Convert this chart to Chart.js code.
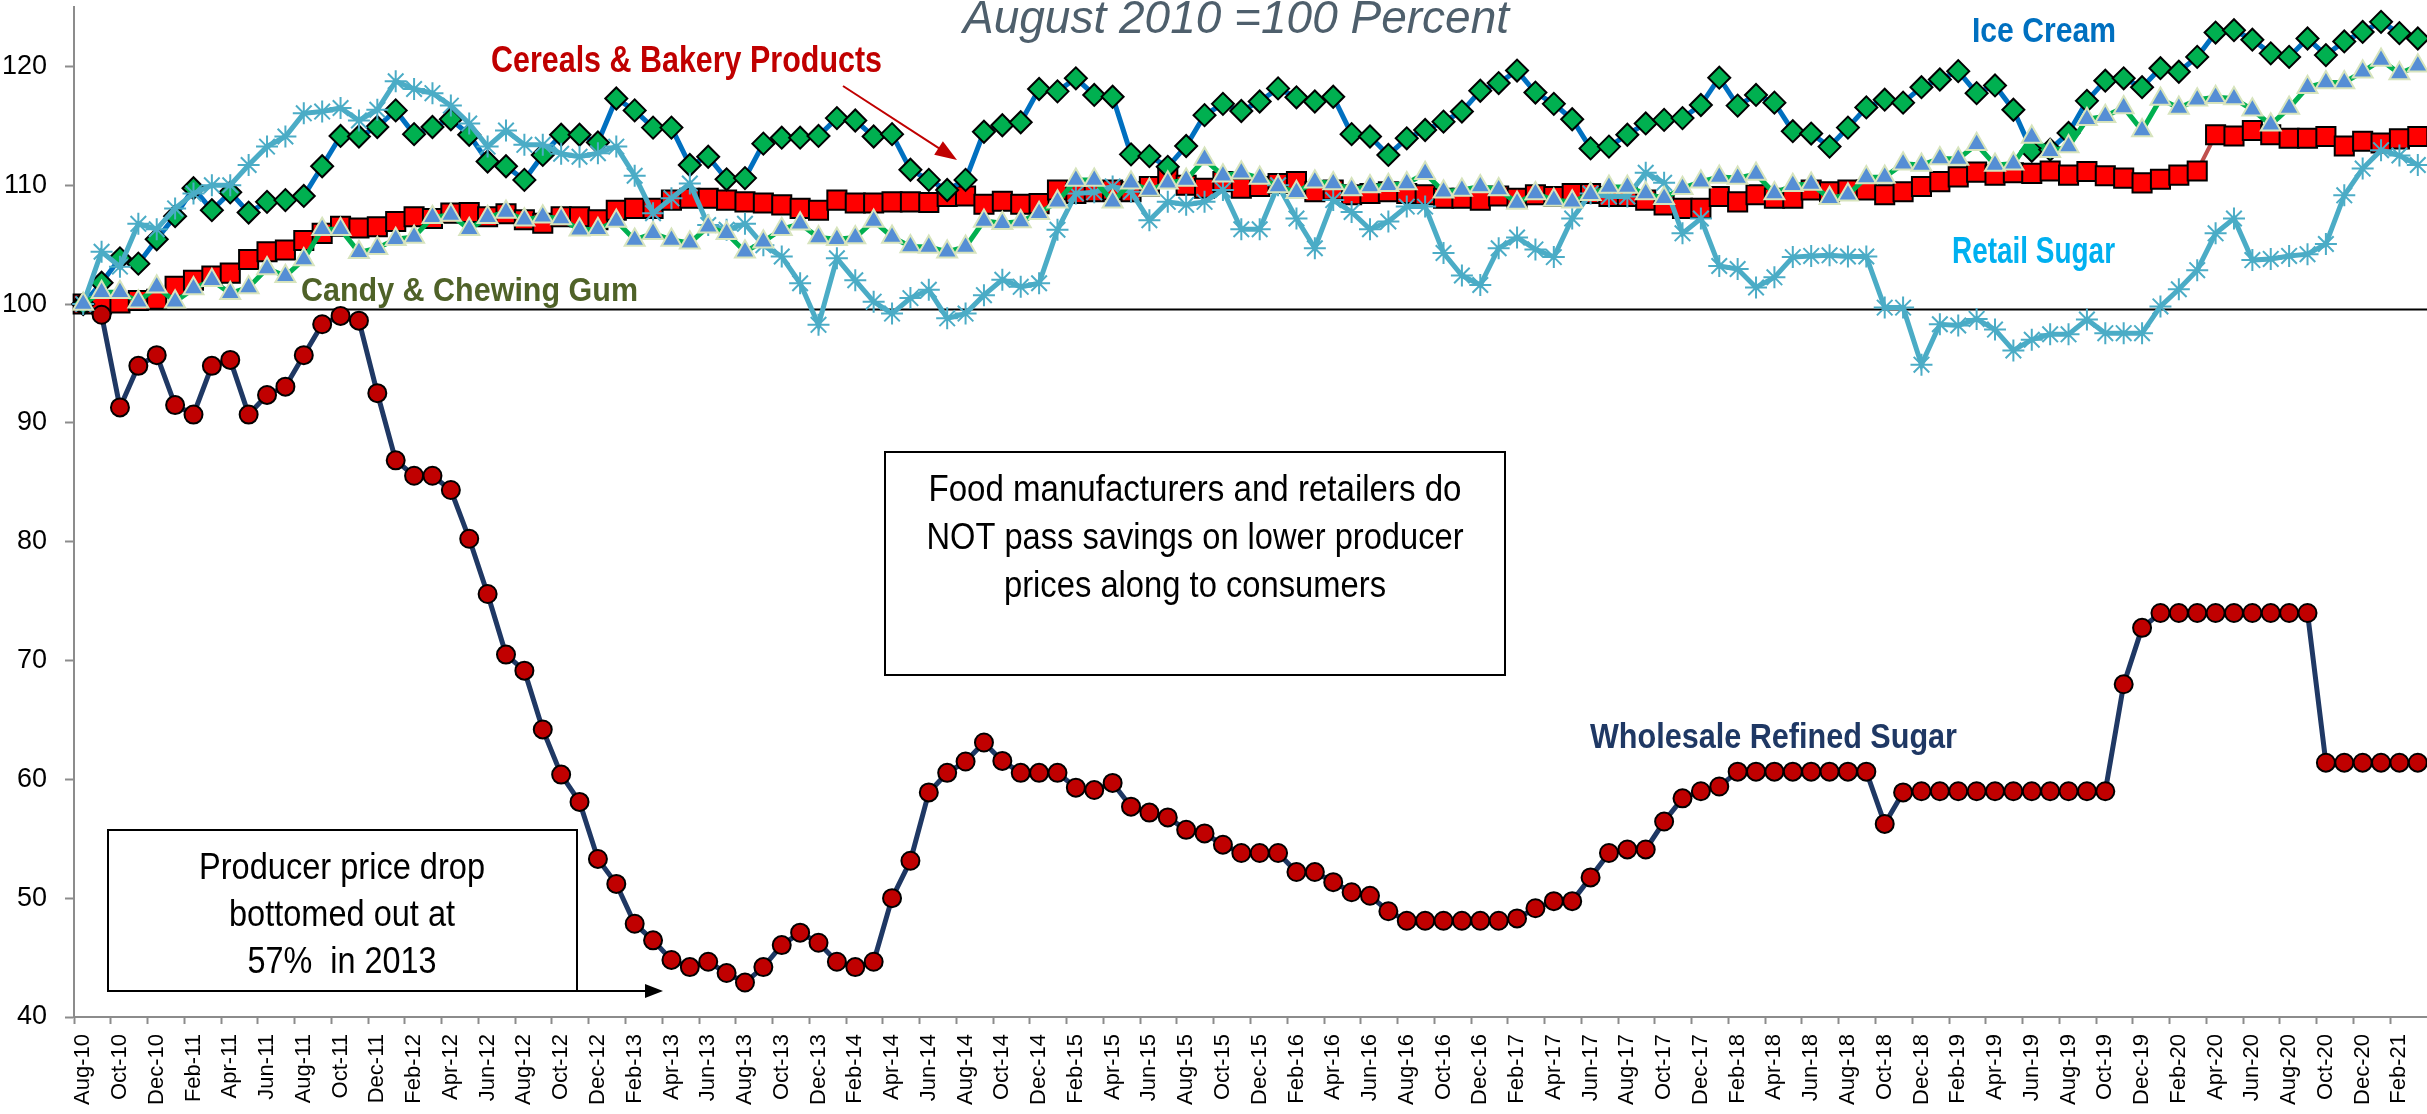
<!DOCTYPE html>
<html><head><meta charset="utf-8">
<script src="https://cdn.jsdelivr.net/npm/chart.js@4.4.0/dist/chart.umd.min.js"></script>
<style>html,body{margin:0;padding:0;background:#fff;}canvas{display:block;}</style>
</head><body>
<canvas id="c" width="2427" height="1114"></canvas>
<script>
const months = [
 'Aug-10','Sep-10','Oct-10','Nov-10','Dec-10',
 'Jan-11','Feb-11','Mar-11','Apr-11','May-11','Jun-11','Jul-11','Aug-11','Sep-11','Oct-11','Nov-11','Dec-11',
 'Jan-12','Feb-12','Mar-12','Apr-12','May-12','Jun-12','Jul-12','Aug-12','Sep-12','Oct-12','Nov-12','Dec-12',
 'Jan-13','Feb-13','Mar-13','Apr-13','May-13','Jun-13','Jul-13','Aug-13','Sep-13','Oct-13','Nov-13','Dec-13',
 'Jan-14','Feb-14','Mar-14','Apr-14','May-14','Jun-14','Jul-14','Aug-14','Sep-14','Oct-14','Nov-14','Dec-14',
 'Jan-15','Feb-15','Mar-15','Apr-15','May-15','Jun-15','Jul-15','Aug-15','Sep-15','Oct-15','Nov-15','Dec-15',
 'Jan-16','Feb-16','Mar-16','Apr-16','May-16','Jun-16','Jul-16','Aug-16','Sep-16','Oct-16','Nov-16','Dec-16',
 'Jan-17','Feb-17','Mar-17','Apr-17','May-17','Jun-17','Jul-17','Aug-17','Sep-17','Oct-17','Nov-17','Dec-17',
 'Jan-18','Feb-18','Mar-18','Apr-18','May-18','Jun-18','Jul-18','Aug-18','Sep-18','Oct-18','Nov-18','Dec-18',
 'Jan-19','Feb-19','Mar-19','Apr-19','May-19','Jun-19','Jul-19','Aug-19','Sep-19','Oct-19','Nov-19','Dec-19',
 'Jan-20','Feb-20','Mar-20','Apr-20','May-20','Jun-20','Jul-20','Aug-20','Sep-20','Oct-20','Nov-20','Dec-20',
 'Jan-21','Feb-21','Mar-21'
];

const wholesaleSugar = [
 100, 99.1, 91.3, 94.8, 95.7, 91.5, 90.7, 94.8, 95.3, 90.7,
 92.35, 93.05, 95.7, 98.3, 99.0, 98.6, 92.5, 86.85, 85.55, 85.55,
 84.35, 80.25, 75.6, 70.5, 69.15, 64.2, 60.4, 58.1, 53.3, 51.2,
 47.85, 46.45, 44.8, 44.2, 44.65, 43.7, 42.9, 44.2, 46.05, 47.1,
 46.25, 44.65, 44.2, 44.65, 50.0, 53.15, 58.9, 60.55, 61.5, 63.1,
 61.55, 60.55, 60.55, 60.55, 59.3, 59.1, 59.7, 57.7, 57.2, 56.8,
 55.75, 55.45, 54.5, 53.8, 53.8, 53.8, 52.2, 52.2, 51.35, 50.5,
 50.2, 48.9, 48.1, 48.1, 48.1, 48.1, 48.1, 48.1, 48.3, 49.15,
 49.75, 49.75, 51.75, 53.8, 54.1, 54.1, 56.45, 58.4, 59.0, 59.4,
 60.65, 60.65, 60.65, 60.65, 60.65, 60.65, 60.65, 60.65, 56.25, 58.9,
 59.0, 59.0, 59.0, 59.0, 59.0, 59.0, 59.0, 59.0, 59.0, 59.0,
 59.0, 68.0, 72.75, 74, 74, 74, 74, 74, 74, 74,
 74, 74, 61.4, 61.4, 61.4, 61.4, 61.4, 61.4
];

const iceCream = [
 100, 101.8, 103.85, 103.4, 105.45, 107.4, 109.75, 107.9, 109.4, 107.7,
 108.6, 108.75, 109.1, 111.6, 114.15, 114.1, 114.9, 116.3, 114.3, 114.9,
 115.55, 114.25, 112.0, 111.6, 110.45, 112.55, 114.25, 114.25, 113.6, 117.3,
 116.3, 114.85, 114.85, 111.7, 112.4, 110.5, 110.6, 113.5, 114.0, 114.0,
 114.15, 115.65, 115.45, 114.1, 114.3, 111.3, 110.45, 109.6, 110.45, 114.5,
 115.05, 115.3, 118.1, 117.9, 119.0, 117.6, 117.45, 112.6, 112.45, 111.55,
 113.3, 115.9, 116.85, 116.25, 117.05, 118.15, 117.4, 117.05, 117.45, 114.3,
 114.1, 112.55, 113.95, 114.65, 115.35, 116.2, 117.95, 118.6, 119.65, 117.8,
 116.85, 115.55, 113.1, 113.25, 114.25, 115.2, 115.5, 115.65, 116.75, 119.05,
 116.7, 117.6, 116.95, 114.55, 114.35, 113.25, 114.85, 116.55, 117.2, 116.95,
 118.25, 118.9, 119.6, 117.75, 118.4, 116.35, 112.9, 113.0, 114.4, 117.1,
 118.8, 119.0, 118.25, 119.85, 119.55, 120.8, 122.85, 123.05, 122.25, 121.1,
 120.8, 122.35, 120.95, 122.1, 122.9, 123.75, 122.8, 122.35
];

const cereals = [
 100.0, 100.0, 100.1, 100.3, 100.4, 101.5, 102.0, 102.35, 102.6, 103.75,
 104.4, 104.55, 105.35, 105.95, 106.55, 106.4, 106.5, 106.95, 107.35, 107.2,
 107.65, 107.7, 107.35, 107.6, 107.1, 106.8, 107.35, 107.35, 107.1, 107.9,
 108.05, 108.05, 108.75, 108.9, 108.9, 108.75, 108.6, 108.5, 108.35, 108.05,
 107.9, 108.75, 108.5, 108.5, 108.6, 108.6, 108.55, 109.05, 109.1, 108.4,
 108.65, 108.4, 108.45, 109.6, 109.3, 109.45, 109.6, 109.45, 109.9, 110.6,
 110.0, 109.75, 110.3, 109.75, 109.9, 110.15, 110.3, 109.45, 109.6, 109.2,
 109.3, 109.45, 109.3, 109.2, 108.9, 108.9, 108.75, 109.1, 108.9, 109.2,
 109.05, 109.3, 109.3, 109.05, 109.05, 108.75, 108.35, 108.05, 108.05, 109.05,
 108.6, 109.2, 108.9, 108.9, 109.6, 109.45, 109.6, 109.6, 109.2, 109.45,
 109.9, 110.3, 110.7, 111.1, 110.85, 111.05, 111.0, 111.2, 110.85, 111.15,
 110.8, 110.6, 110.2, 110.5, 110.85, 111.2, 114.25, 114.15, 114.6, 114.25,
 113.95, 113.95, 114.1, 113.3, 113.7, 113.55, 113.9, 114.1
];

const candyGum = [
 100, 101.0, 101.0, 100.2, 101.45, 100.2, 101.3, 102.0, 100.9, 101.4,
 103.0, 102.35, 103.75, 106.3, 106.3, 104.35, 104.7, 105.45, 105.65, 107.3,
 107.5, 106.3, 107.3, 107.75, 107.1, 107.35, 107.2, 106.25, 106.3, 107.0,
 105.4, 105.95, 105.4, 105.15, 106.5, 105.95, 104.4, 105.25, 106.3, 106.75,
 105.6, 105.45, 105.6, 107.0, 105.65, 104.85, 104.8, 104.4, 104.8, 107.0,
 106.8, 106.95, 107.65, 108.6, 110.45, 110.45, 108.6, 110.2, 109.6, 110.2,
 110.45, 112.2, 110.8, 111.05, 110.6, 109.9, 109.4, 110.3, 110.15, 109.65,
 109.9, 110.0, 110.15, 111.0, 109.45, 109.6, 109.9, 109.65, 108.5, 109.3,
 108.75, 108.6, 109.25, 109.85, 109.85, 109.3, 108.9, 109.75, 110.3, 110.7,
 110.6, 110.95, 109.3, 110.0, 110.1, 108.9, 109.2, 110.65, 110.7, 111.8,
 111.7, 112.25, 112.2, 113.45, 111.7, 111.8, 114.05, 112.85, 113.25, 115.55,
 115.8, 116.55, 114.6, 117.25, 116.5, 117.2, 117.4, 117.3, 116.35, 115.1,
 116.5, 118.25, 118.65, 118.65, 119.55, 120.55, 119.4, 120.05
];

const retailSugar = [
 100, 104.4, 103.15, 106.75, 106.3, 108.05, 109.3, 110.0, 110.0, 111.7,
 113.25, 114.1, 116.05, 116.2, 116.5, 115.45, 116.35, 118.75, 118.1, 117.75,
 116.7, 115.2, 113.25, 114.6, 113.4, 113.4, 112.65, 112.4, 112.7, 113.25,
 110.8, 107.65, 108.9, 110.15, 106.65, 106.25, 106.75, 104.95, 104.0, 101.75,
 98.25, 103.85, 102.0, 100.2, 99.2, 100.5, 101.2, 98.8, 99.2, 100.75,
 102.05, 101.45, 101.75, 106.25, 109.3, 109.4, 109.9, 109.45, 107.05, 108.6,
 108.35, 108.6, 109.6, 106.3, 106.3, 110.0, 107.2, 104.7, 108.75, 107.75,
 106.3, 106.95, 108.2, 108.2, 104.3, 102.4, 101.6, 104.7, 105.6, 104.6,
 103.95, 107.2, 109.3, 109.05, 109.05, 111.05, 110.2, 105.95, 107.2, 103.2,
 102.95, 101.4, 102.25, 103.95, 104.05, 104.1, 104.0, 104.0, 99.7, 99.7,
 94.9, 98.3, 98.2, 98.75, 97.85, 96.1, 97.0, 97.45, 97.45, 98.7,
 97.55, 97.55, 97.55, 99.8, 101.25, 102.85, 105.95, 107.2, 103.7, 103.8,
 104.05, 104.2, 105.05, 109.15, 111.4, 112.95, 112.5, 111.7
];

const yTickValues = [40, 50, 60, 70, 80, 90, 100, 110, 120];
const Y_MIN = 40, Y_MAX = 125;
const BASELINE = 99.6;

const AXIS_GRAY = '#8c8c8c';
const FONT = '"Liberation Sans", Arial, sans-serif';

function fitText(ctx, s, x, y, font, color, align, maxW) {
  ctx.save();
  ctx.font = font; ctx.fillStyle = color; ctx.textAlign = align; ctx.textBaseline = 'alphabetic';
  ctx.fillText(s, x, y, maxW);
  ctx.restore();
}
function arrow(ctx, x1, y1, x2, y2, color, lw, headLen, headW) {
  const a = Math.atan2(y2 - y1, x2 - x1);
  ctx.save();
  ctx.strokeStyle = color; ctx.fillStyle = color; ctx.lineWidth = lw;
  ctx.beginPath(); ctx.moveTo(x1, y1);
  ctx.lineTo(x2 - Math.cos(a) * headLen * 0.8, y2 - Math.sin(a) * headLen * 0.8); ctx.stroke();
  ctx.beginPath(); ctx.moveTo(x2, y2);
  ctx.lineTo(x2 - Math.cos(a) * headLen + Math.sin(a) * headW / 2, y2 - Math.sin(a) * headLen - Math.cos(a) * headW / 2);
  ctx.lineTo(x2 - Math.cos(a) * headLen - Math.sin(a) * headW / 2, y2 - Math.sin(a) * headLen + Math.cos(a) * headW / 2);
  ctx.closePath(); ctx.fill();
  ctx.restore();
}

const baselinePlugin = {
  id: 'baseline',
  beforeDatasetsDraw(chart) {
    const { ctx, chartArea: ca, scales: { y } } = chart;
    const py = Math.round(y.getPixelForValue(BASELINE)) + 0.5;
    ctx.save();
    ctx.strokeStyle = '#000'; ctx.lineWidth = 2;
    ctx.beginPath(); ctx.moveTo(ca.left, py); ctx.lineTo(ca.right, py); ctx.stroke();
    ctx.restore();
  }
};

const annotationPlugin = {
  id: 'notes',
  afterDraw(chart) {
    const ctx = chart.ctx;
    fitText(ctx, 'August 2010 =100 Percent', 963, 33, 'italic 46px ' + FONT, '#4e5f6c', 'left', 569);
    fitText(ctx, 'Cereals & Bakery Products', 491, 72, 'bold 36px ' + FONT, '#c00000', 'left', 391);
    fitText(ctx, 'Ice Cream', 1972, 42, 'bold 35px ' + FONT, '#0070c0', 'left', 144);
    fitText(ctx, 'Retail Sugar', 1952, 263, 'bold 36px ' + FONT, '#00b0f0', 'left', 163);
    fitText(ctx, 'Candy & Chewing Gum', 301, 301, 'bold 33px ' + FONT, '#4f6228', 'left', 337);
    fitText(ctx, 'Wholesale Refined Sugar', 1590, 748, 'bold 35px ' + FONT, '#1f3864', 'left', 367);
    arrow(ctx, 843, 86, 957, 160, '#c00000', 2, 22, 16);
    ctx.save(); ctx.strokeStyle = '#000'; ctx.lineWidth = 2;
    ctx.strokeRect(885, 452, 620, 223);
    ctx.strokeRect(108, 830, 469, 161);
    ctx.restore();
    fitText(ctx, 'Food manufacturers and retailers do', 1195, 501, '36px ' + FONT, '#000', 'center', 533);
    fitText(ctx, 'NOT pass savings on lower producer', 1195, 549, '36px ' + FONT, '#000', 'center', 537);
    fitText(ctx, 'prices along to consumers', 1195, 597, '36px ' + FONT, '#000', 'center', 382);
    fitText(ctx, 'Producer price drop', 342, 879, '36px ' + FONT, '#000', 'center', 286);
    fitText(ctx, 'bottomed out at', 342, 926, '36px ' + FONT, '#000', 'center', 226);
    fitText(ctx, '57%  in 2013', 342, 973, '36px ' + FONT, '#000', 'center', 189);
    arrow(ctx, 577, 991, 663, 991, '#000', 2, 18, 14);
  }
};

function ds(label, data, o) {
  return Object.assign({
    label, data, tension: 0, borderWidth: 5, pointBorderWidth: 2,
    pointHoverRadius: 0, spanGaps: true
  }, o);
}
function zeroPad(s) { s.paddingTop = 0; s.paddingBottom = 0; s.paddingLeft = 0; s.paddingRight = 0; }

new Chart(document.getElementById('c'), {
  type: 'line',
  data: {
    labels: months,
    datasets: [
      ds('Candy & Chewing Gum', candyGum, {
        order: 0, borderColor: '#00b050', pointStyle: 'triangle', pointRadius: 11.5,
        pointBackgroundColor: '#558ed5', pointBorderColor: '#d7e4bd'
      }),
      ds('Retail Sugar', retailSugar, {
        order: 1, borderColor: '#4bacc6', pointStyle: 'star', pointRadius: 11,
        pointBackgroundColor: '#4bacc6', pointBorderColor: '#4bacc6'
      }),
      ds('Ice Cream', iceCream, {
        order: 2, borderColor: '#0070c0', pointStyle: 'rectRot', pointRadius: 11,
        pointBackgroundColor: '#00b050', pointBorderColor: '#000'
      }),
      ds('Wholesale Refined Sugar', wholesaleSugar, {
        order: 3, borderColor: '#1f3864', pointStyle: 'circle', pointRadius: 9,
        pointBackgroundColor: '#c00000', pointBorderColor: '#000'
      }),
      ds('Cereals & Bakery Products', cereals, {
        order: 4, borderColor: '#c0504d', borderWidth: 4, pointStyle: 'rect', pointRadius: 13.5,
        pointBackgroundColor: '#ff0000', pointBorderColor: '#000'
      })
    ]
  },
  options: {
    responsive: false, animation: false, devicePixelRatio: 1,
    layout: { autoPadding: false, padding: { top: 7, right: 0, left: 0, bottom: 0 } },
    plugins: { legend: { display: false }, tooltip: { enabled: false }, title: { display: false } },
    events: [],
    scales: {
      x: {
        type: 'category', offset: true,
        grid: {
          display: true, drawOnChartArea: false, offset: true, tickLength: 7, tickWidth: 2,
          tickColor: (c) => (c.index % 2 === 0 ? AXIS_GRAY : 'rgba(0,0,0,0)')
        },
        border: { display: true, color: AXIS_GRAY, width: 2 },
        ticks: {
          autoSkip: false, minRotation: 90, maxRotation: 90, padding: 10, color: '#000',
          font: { family: FONT, size: 22 },
          callback: function (v, i) { return i % 2 === 0 ? this.getLabelForValue(v) : ''; }
        },
        afterFit: (s) => { s.height = 97; zeroPad(s); }
      },
      y: {
        min: Y_MIN, max: Y_MAX,
        afterBuildTicks: (s) => { s.ticks = yTickValues.map(v => ({ value: v })); },
        grid: { display: true, drawOnChartArea: false, tickLength: 9, tickWidth: 2, tickColor: AXIS_GRAY },
        border: { display: true, color: AXIS_GRAY, width: 2 },
        ticks: { color: '#000', padding: 18, font: { family: '"Liberation Sans Narrow", ' + FONT, size: 27 } },
        afterFit: (s) => { s.width = 74; zeroPad(s); }
      }
    }
  },
  plugins: [baselinePlugin, annotationPlugin]
});
</script>
</body></html>
